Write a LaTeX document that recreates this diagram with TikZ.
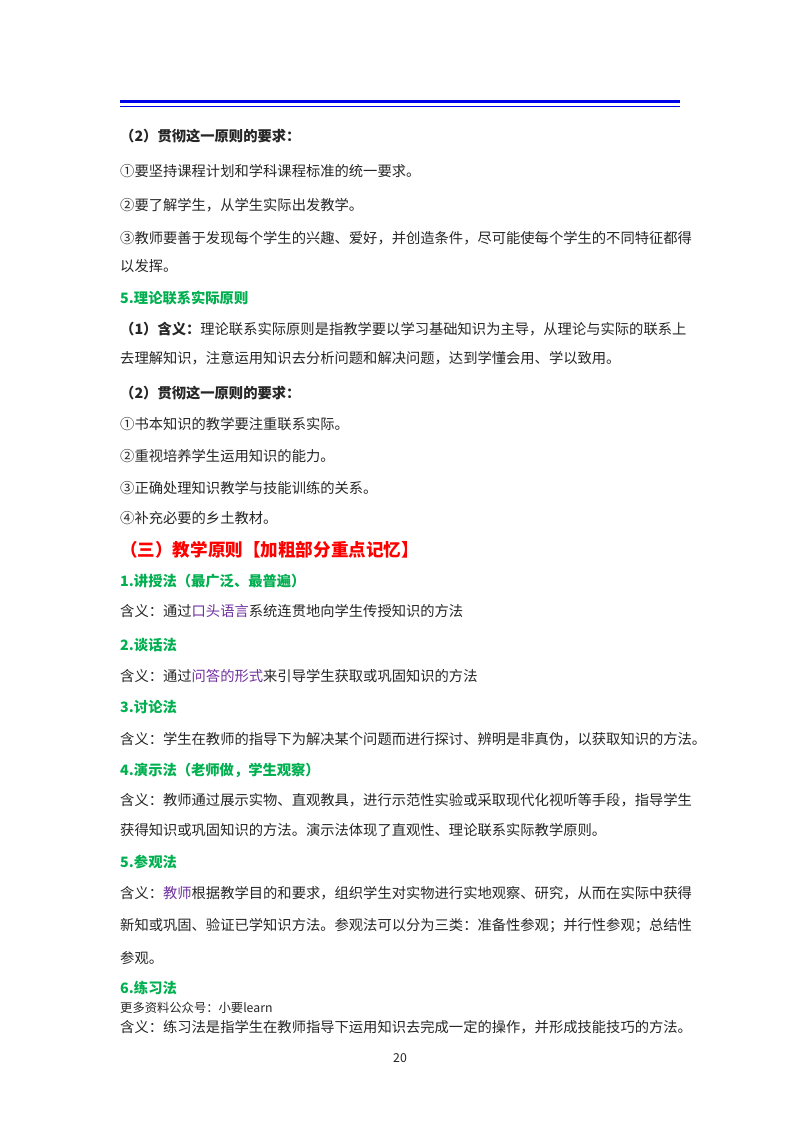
\documentclass[tikz,border=0pt]{standalone}
\usepackage{fontspec}
\setmainfont{Noto Sans CJK SC}
\newfontfamily\cjk{Noto Sans CJK SC}
\definecolor{headblue}{RGB}{0,0,230}
\definecolor{secgreen}{RGB}{0,176,80}
\definecolor{keypurple}{RGB}{112,48,160}
\begin{document}
\begin{tikzpicture}[x=0.03cm,y=-0.03cm]
        % Styles
        \tikzset{
          body/.style={anchor=west,inner sep=0pt,font=\fontsize{12.2pt}{14pt}\selectfont,text=black!85},
          strong/.style={body,font=\fontsize{12.2pt}{14pt}\selectfont\bfseries},
          section/.style={body,text=secgreen,font=\fontsize{12.2pt}{14pt}\selectfont\bfseries},
          chapter/.style={body,text=red,font=\fontsize{15pt}{17pt}\selectfont\bfseries},
          note/.style={body,font=\fontsize{10.5pt}{12pt}\selectfont}
        }
        \newcommand{\key}[1]{\textcolor{keypurple}{#1}}
        %page
        \useasboundingbox[fill=white] (0,0) rectangle (800,1132);
        %header rule
        \draw[headblue,line width=3.2pt] (120,101.5) -- (680,101.5);
        \draw[headblue,line width=0.8pt] (120,106) -- (680,106);
        %lines of text
        \node[strong] (l1) at (120,136) {（2）贯彻这一原则的要求：};
        \node[body] (l2) at (120,171) {①要坚持课程计划和学科课程标准的统一要求。};
        \node[body] (l3) at (120,205) {②要了解学生，从学生实际出发教学。};
        \node[body] (l4) at (120,238) {③教师要善于发现每个学生的兴趣、爱好，并创造条件，尽可能使每个学生的不同特征都得};
        \node[body] (l5) at (120,266) {以发挥。};
        \node[section] (l6) at (120,298) {5.理论联系实际原则};
        \node[body] (l7) at (120,329) {\textbf{（1）含义：}理论联系实际原则是指教学要以学习基础知识为主导，从理论与实际的联系上};
        \node[body] (l8) at (120,358) {去理解知识，注意运用知识去分析问题和解决问题，达到学懂会用、学以致用。};
        \node[strong] (l9) at (120,393) {（2）贯彻这一原则的要求：};
        \node[body] (l10) at (120,424) {①书本知识的教学要注重联系实际。};
        \node[body] (l11) at (120,456) {②重视培养学生运用知识的能力。};
        \node[body] (l12) at (120,488) {③正确处理知识教学与技能训练的关系。};
        \node[body] (l13) at (120,518) {④补充必要的乡土教材。};
        \node[chapter] (l14) at (120,550) {（三）教学原则【加粗部分重点记忆】};
        \node[section] (l15) at (120,581) {1.讲授法（最广泛、最普遍）};
        \node[body] (l16) at (120,611) {含义：通过\key{口头语言}系统连贯地向学生传授知识的方法};
        \node[section] (l17) at (120,645) {2.谈话法};
        \node[body] (l18) at (120,676) {含义：通过\key{问答的形式}来引导学生获取或巩固知识的方法};
        \node[section] (l19) at (120,707) {3.讨论法};
        \node[body] (l20) at (120,739) {含义：学生在教师的指导下为解决某个问题而进行探讨、辨明是非真伪，以获取知识的方法。};
        \node[section] (l21) at (120,770) {4.演示法（老师做，学生观察）};
        \node[body] (l22) at (120,800) {含义：教师通过展示实物、直观教具，进行示范性实验或采取现代化视听等手段，指导学生};
        \node[body] (l23) at (120,830) {获得知识或巩固知识的方法。演示法体现了直观性、理论联系实际教学原则。};
        \node[section] (l24) at (120,862) {5.参观法};
        \node[body] (l25) at (120,893) {含义：\key{教师}根据教学目的和要求，组织学生对实物进行实地观察、研究，从而在实际中获得};
        \node[body] (l26) at (120,926) {新知或巩固、验证已学知识方法。参观法可以分为三类：准备性参观；并行性参观；总结性};
        \node[body] (l27) at (120,958) {参观。};
        \node[section] (l28) at (120,988) {6.练习法};
        \node[note] (l29) at (120,1008) {更多资料公众号：小要learn};
        \node[body] (l30) at (120,1027) {含义：练习法是指学生在教师指导下运用知识去完成一定的操作，并形成技能技巧的方法。};
        %page number
        \node[note,anchor=center] (num) at (400,1058) {20};
\end{tikzpicture}
\end{document}
